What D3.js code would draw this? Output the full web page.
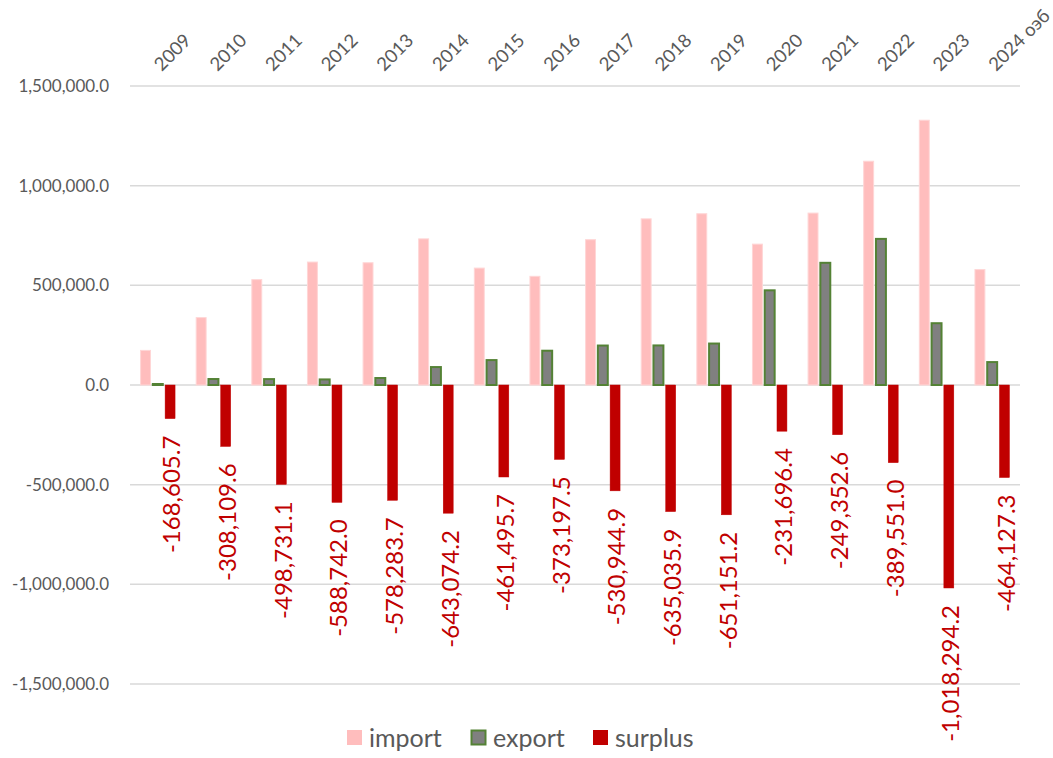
<!DOCTYPE html>
<html>
<head>
<meta charset="utf-8">
<script src="https://cdn.jsdelivr.net/npm/d3@7"></script>
<style>
  body { margin: 0; background: #fff; }
  svg text { font-family: Lato, "Open Sans", sans-serif; }
  .grid line { stroke: #d9d9d9; stroke-width: 1.5; }
</style>
</head>
<body>
<div id="chart"></div>
<script>
const years = ['2009', '2010', '2011', '2012', '2013', '2014', '2015', '2016',
               '2017', '2018', '2019', '2020', '2021', '2022', '2023', '2024 оэб'];
const importVals = [173600, 338100, 528700, 616700, 613300, 733100, 586500, 545200,
                    729000, 833500, 859200, 706700, 862400, 1122600, 1328300, 579100];
const exportVals = [5000, 30000, 29600, 28000, 35000, 90000, 125000, 172000,
                    198000, 198500, 208000, 475000, 613000, 733000, 310000, 115000];
const surplusVals = [-168605.7, -308109.6, -498731.1, -588742.0, -578283.7, -643074.2,
                     -461495.7, -373197.5, -530944.9, -635035.9, -651151.2, -231696.4,
                     -249352.6, -389551.0, -1018294.2, -464127.3];
const series = ['import', 'export', 'surplus'];
const yTicks = [-1500000, -1000000, -500000, 0, 500000, 1000000, 1500000];

const W = 1053, H = 758;
const plot = {left: 130, right: 1020, top: 86, bottom: 684};

const svg = d3.select('#chart').append('svg')
      .attr('width', W)
      .attr('height', H);

const x0 = d3.scaleBand()
      .domain(years)
      .range([plot.left, plot.right]);
const bw = x0.bandwidth();
const x1 = d3.scaleBand()
      .domain(series)
      .range([0.19 * bw, 0.81 * bw])
      .paddingInner(0.19);
const y = d3.scaleLinear()
      .domain([-1500000, 1500000])
      .range([plot.bottom, plot.top]);

// Excel style: plain hyphen for negatives
const fmt1 = d3.format(',.1f');
const fmt = v => fmt1(v).replace('\u2212', '-');

// Grid
svg.append('g')
  .attr('class', 'grid')
  .selectAll('line')
  .data(yTicks)
  .enter().append('line')
  .attr('x1', plot.left)
  .attr('x2', plot.right)
  .attr('y1', d => y(d))
  .attr('y2', d => y(d));

// Y axis labels
const yAxis = d3.axisLeft(y).tickValues(yTicks).tickFormat(fmt).tickSize(0).tickPadding(21);
svg.append('g')
  .attr('transform', `translate(${plot.left},0)`)
  .call(yAxis)
  .call(g => g.select('.domain').remove())
  .call(g => g.selectAll('text')
        .attr('fill', '#595959')
        .style('font-size', '17px'));

// Category labels at the top
svg.append('g')
  .selectAll('text')
  .data(years)
  .enter().append('text')
  .attr('transform', d => `translate(${x0(d) + bw / 2 + 4},72) rotate(-45)`)
  .attr('fill', '#595959')
  .style('font-size', '18.5px')
  .text(d => d);

const rows = years.map((yr, i) => ({
  year: yr,
  vals: [importVals[i], exportVals[i], surplusVals[i]]
}));

const style = {
  import: {fill: '#ffbdbd', stroke: '#ffd6d6', sw: 1},
  export: {fill: '#808080', stroke: '#548235', sw: 2},
  surplus: {fill: '#c00000', stroke: '#c00000', sw: 0.5}
};

// Bars
const groups = svg.append('g')
      .selectAll('g')
      .data(rows)
      .enter().append('g')
      .attr('transform', d => `translate(${x0(d.year)},0)`);

groups.selectAll('rect')
  .data(d => d.vals.map((v, i) => ({key: series[i], v})))
  .enter().append('rect')
  .attr('x', d => x1(d.key))
  .attr('width', x1.bandwidth())
  .attr('y', d => y(Math.max(0, d.v)))
  .attr('height', d => Math.abs(y(d.v) - y(0)))
  .style('fill', d => style[d.key].fill)
  .style('stroke', d => style[d.key].stroke)
  .style('stroke-width', d => style[d.key].sw);

// Surplus labels
groups.append('text')
  .attr('transform', (d, i) =>
        `translate(${x1('surplus') + x1.bandwidth() / 2 + 2},${y(surplusVals[i]) + 17}) rotate(-90)`)
  .attr('text-anchor', 'end')
  .attr('dy', '0.35em')
  .attr('fill', '#c00000')
  .style('font-size', '24px')
  .text((d, i) => fmt(surplusVals[i]));

// Legend
const legendX = [347, 471, 593];
const legend = svg.append('g')
      .selectAll('g')
      .data(series)
      .enter().append('g')
      .attr('transform', (_, i) => `translate(${legendX[i]},730)`);
legend.append('rect')
  .attr('width', d => d === 'export' ? 14 : 15)
  .attr('height', d => d === 'export' ? 14 : 15)
  .attr('x', d => d === 'export' ? 0.5 : 0)
  .attr('y', d => d === 'export' ? 0.5 : 0)
  .style('fill', d => style[d].fill)
  .style('stroke', d => d === 'export' ? style[d].stroke : 'none')
  .style('stroke-width', 2);
legend.append('text')
  .attr('x', 22)
  .attr('y', 17)
  .attr('fill', '#595959')
  .style('font-size', '25px')
  .text(d => d);
</script>
</body>
</html>
